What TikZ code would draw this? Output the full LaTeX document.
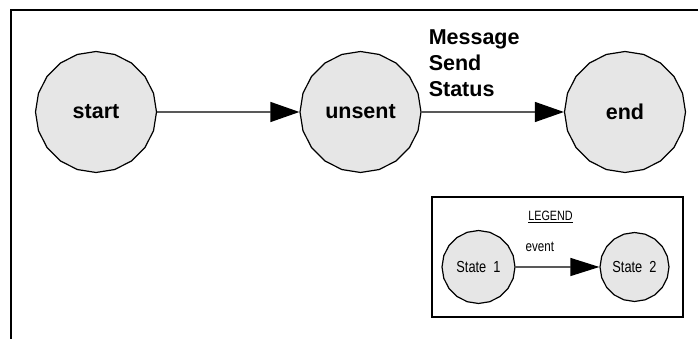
\documentclass[tikz,border=0pt]{standalone}
\usepackage{fontspec}
\setmainfont{Liberation Sans}
\newfontfamily\narrowsans[FakeStretch=0.8]{Liberation Sans}
\usepackage{tikz}
\usetikzlibrary{arrows.meta,shapes.geometric}
\definecolor{stategrey}{HTML}{E6E6E6}

\begin{document}
\begin{tikzpicture}[x=1pt,y=1pt,
  state/.style={regular polygon, regular polygon sides=20, shape border rotate=9,
    draw, line width=1.2pt, fill=stategrey, minimum size=121pt, inner sep=0pt,
    font=\fontsize{21.5}{26}\selectfont\bfseries},
  smallstate/.style={state, font=\narrowsans\fontsize{16}{18}\selectfont},
  trans/.style={line width=1.3pt, -{Triangle[length=29pt,width=20pt]}},
  smalltrans/.style={trans, -{Triangle[length=29pt,width=18pt]}}]
\useasboundingbox (0,0) rectangle (698,339);
\draw[line width=2pt] (11,0) -- (11,329) -- (698,329);
\node[state] (start) at (96,227) {start};
\node[state] (unsent) at (360.5,227) {unsent};
\node[state] (end) at (625,227) {end};
\draw[trans] (start) -- (unsent);
\draw[trans] (unsent) -- node[at start, anchor=south west, xshift=6.5pt, yshift=15pt,
  align=left, inner sep=0pt, font=\fontsize{21.5}{25.8}\selectfont\bfseries]
  (msg) {Message\\Send\\Status} (end);
\draw[line width=2pt] (432.3,22.3) rectangle (683.3,142.3);
\node[font=\narrowsans\fontsize{13.5}{15}\selectfont, anchor=base] (legendtitle) at (550.5,118) {\underline{LEGEND}};
\node[smallstate, minimum size=73pt] (state1) at (478.5,72) {State~~1};
\node[smallstate, minimum size=69pt] (state2) at (634.5,72) {State~~2};
\draw[smalltrans] (state1) -- node[pos=0.29, anchor=base, yshift=15pt,
  font=\narrowsans\fontsize{14.5}{16}\selectfont] (ev) {event} (state2);
\end{tikzpicture}
\end{document}
